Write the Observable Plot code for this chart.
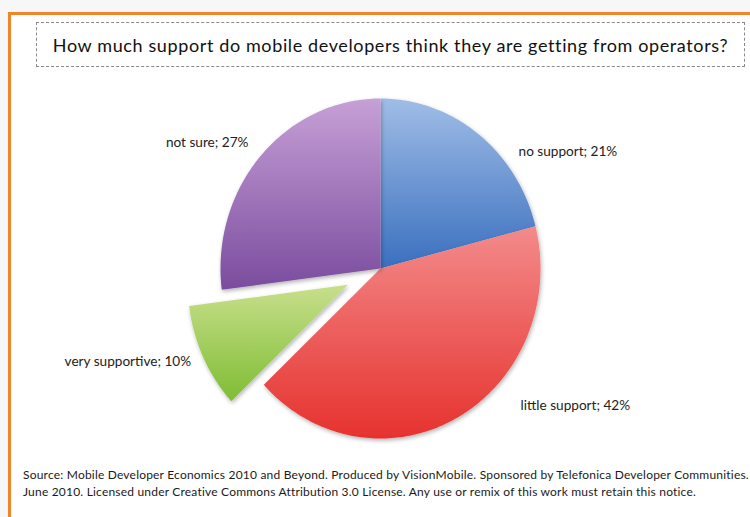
<!DOCTYPE html>
<html>
<head>
<meta charset="utf-8">
<script src="https://cdn.jsdelivr.net/npm/d3@7"></script>
<script src="https://cdn.jsdelivr.net/npm/@observablehq/plot@0.6"></script>
<style>
  html, body { margin: 0; padding: 0; background: #f7f7f7; }
  #wrap { position: relative; width: 750px; height: 517px; overflow: hidden; font-family: Lato, "Open Sans", sans-serif; }
  #frame { position: absolute; left: 8px; top: 12px; width: 760px; height: 520px; background: #fff;
           border-left: 3px solid #f0862a; border-top: 3px solid #f0862a; }
  #title { position: absolute; left: 36px; top: 22px; width: 707px; height: 43px; border: 1.5px dashed #8a8a8a;
           display: flex; align-items: center; justify-content: center; font-size: 18px; letter-spacing: 0.62px; color: #111; white-space: nowrap; }
  #chart { position: absolute; left: 0; top: 80px; }
  #footer { position: absolute; left: 23px; top: 467px; font-size: 12px; letter-spacing: 0.2px; line-height: 16.5px; color: #1a1a1a; white-space: nowrap; }
</style>
</head>
<body>
<div id="wrap">
  <div id="frame"></div>
  <div id="title">How much support do mobile developers think they are getting from operators?</div>
  <div id="chart"></div>
  <div id="footer">Source: Mobile Developer Economics 2010 and Beyond. Produced by VisionMobile. Sponsored by Telefonica Developer Communities.<br>June 2010. Licensed under Creative Commons Attribution 3.0 License. Any use or remix of this work must retain this notice.</div>
</div>
<script>
// ---- data ----
const categories = ["no support", "little support", "very supportive", "not sure"];
const shares = [21, 42, 10, 27];
const exploded = ["very supportive"];
const gradTop = ["#a0bde6", "#f38b8b", "#c8df8c", "#c7a0d6"];
const gradBottom = ["#3a6fbf", "#e6322e", "#7fbd33", "#7a4c9e"];

// ---- geometry via d3.pie ----
const arcs = d3.pie().sort(null).value(d => d.value)(categories.map((c, i) => ({name: c, value: shares[i]})));
const explode = 0.225;
const slices = arcs.map((a, i) => {
  const mid = (a.startAngle + a.endAngle) / 2;
  const off = exploded.includes(a.data.name) ? explode : 0;
  const cx = off * Math.sin(mid), cy = off * Math.cos(mid);
  const pts = [{x: cx, y: cy}];
  const n = Math.max(2, Math.ceil((a.endAngle - a.startAngle) / (Math.PI / 180)));
  for (let k = 0; k <= n; k++) {
    const t = a.startAngle + (a.endAngle - a.startAngle) * k / n;
    pts.push({x: cx + Math.sin(t), y: cy + Math.cos(t)});
  }
  pts.push({x: cx, y: cy});
  return {name: a.data.name, value: a.data.value, i, mid, cx, cy, pts};
});

// label placement (relative to edge point at slice mid-angle), in pixels
const labelStyle = {
  "no support": {dx: 40, dy: 17, anchor: "start"},
  "little support": {dx: 63, dy: -12, anchor: "start"},
  "very supportive": {dx: -12, dy: 4, anchor: "end"},
  "not sure": {dx: -12, dy: -13, anchor: "end"}
};
const labels = slices.map(s => ({
  name: s.name,
  text: `${s.name}; ${s.value}%`,
  x: s.cx + Math.sin(s.mid),
  y: s.cy + Math.cos(s.mid)
}));

const marks = slices.map(s => Plot.line(s.pts, {x: "x", y: "y", fill: `url(#grad${s.i})`, stroke: "none", curve: "linear"}));
for (const l of labels) {
  const st = labelStyle[l.name];
  marks.push(Plot.text([l], {x: "x", y: "y", text: "text", dx: st.dx, dy: st.dy, textAnchor: st.anchor,
    fill: "#222", fontSize: 13.6, fontFamily: "Lato, 'Open Sans', sans-serif"}));
}

const plot = Plot.plot({
  width: 750,
  height: 380,
  margin: 0,
  style: {background: "transparent", overflow: "visible"},
  x: {domain: [-1, 1], range: [220, 540], axis: null},
  y: {domain: [-1, 1], range: [358, 18], axis: null},
  marks
});

// gradients + shadow
const svg = d3.select(plot);
const defs = svg.insert("defs", ":first-child");
gradTop.forEach((c, i) => {
  const g = defs.append("linearGradient").attr("id", `grad${i}`).attr("x1", 0).attr("y1", 0).attr("x2", 0).attr("y2", 1);
  g.append("stop").attr("offset", "0%").attr("stop-color", c);
  g.append("stop").attr("offset", "100%").attr("stop-color", gradBottom[i]);
});
const f = defs.append("filter").attr("id", "shadow").attr("x", "-20%").attr("y", "-20%").attr("width", "140%").attr("height", "140%");
f.append("feDropShadow").attr("dx", 1).attr("dy", 2).attr("stdDeviation", 2).attr("flood-color", "#000").attr("flood-opacity", 0.3);
svg.selectAll("g[aria-label='line'] path").attr("filter", "url(#shadow)");

document.getElementById("chart").appendChild(plot);
</script>
</body>
</html>
